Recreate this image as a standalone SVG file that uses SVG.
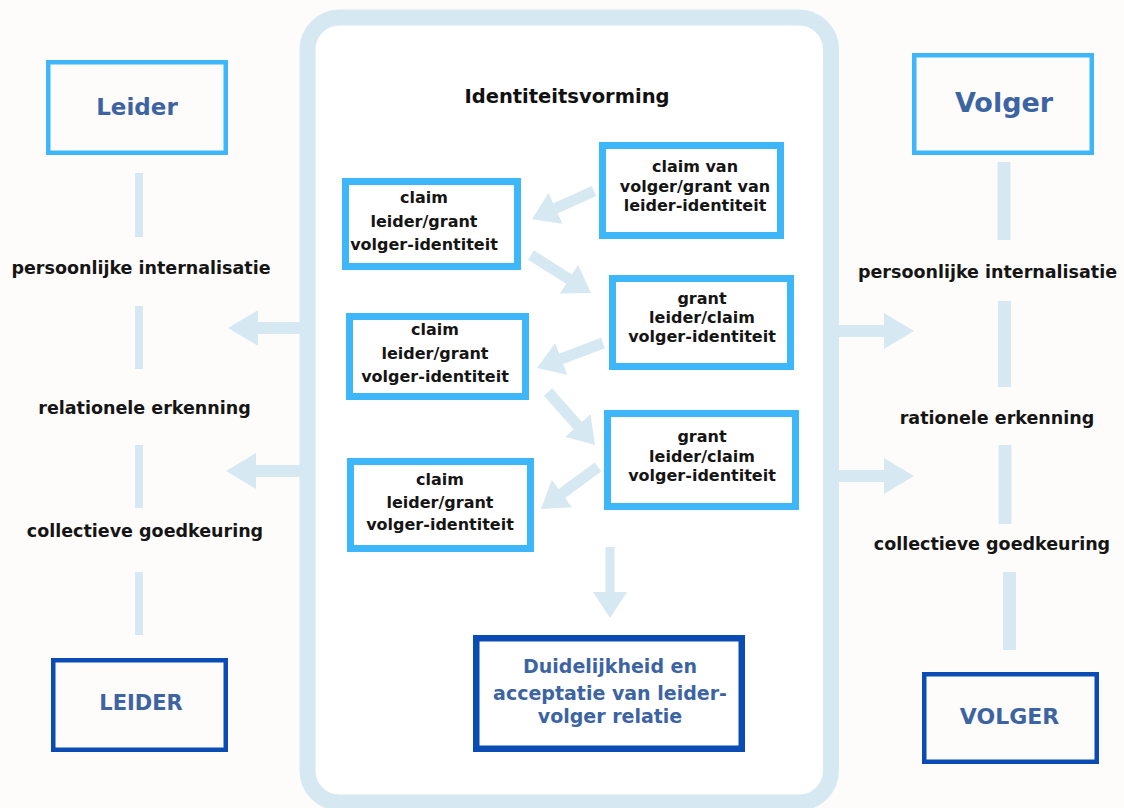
<svg xmlns="http://www.w3.org/2000/svg" width="1124" height="808" viewBox="0 0 1124 808">
<style>
  text { font-family: "DejaVu Sans", "Liberation Sans", sans-serif; font-weight: bold; text-anchor: middle; }
  .lbl { font-size: 17.5px; fill: #151515; }
  .inner { font-size: 16px; fill: #151515; }
  .bb { fill: none; stroke: #3db6fa; stroke-width: 7; }
  .ob { fill: none; stroke: #3db6fa; stroke-width: 4.5; }
  .db { fill: none; stroke: #0b4cb4; stroke-width: 4.5; }
  .blue { fill: #3d64a2; }
  .seg { stroke: #d6e9f2; }
  .arr { stroke: #d6e9f2; fill: none; }
</style>
<defs>
  <marker id="head" markerUnits="userSpaceOnUse" viewBox="0 0 26 34" markerWidth="26" markerHeight="34" refX="16" refY="17" orient="auto">
    <path d="M0,0 L26,17 L0,34 z" fill="#d6e9f2"/>
  </marker>
  <marker id="headL" markerUnits="userSpaceOnUse" viewBox="0 0 30 36" markerWidth="30" markerHeight="36" refX="20" refY="18" orient="auto">
    <path d="M0,0 L30,18 L0,36 z" fill="#d6e9f2"/>
  </marker>
</defs>
<rect width="1124" height="808" fill="#fdfcfa"/>
<g id="frame">
  <rect x="307.5" y="17.5" width="523.5" height="785" rx="32" fill="#ffffff" stroke="#d6e9f2" stroke-width="16"/>
</g>
<g id="connectors">
  <line class="seg" x1="139" y1="173" x2="139" y2="237" stroke-width="8"/>
  <line class="seg" x1="139" y1="306" x2="139" y2="369" stroke-width="8"/>
  <line class="seg" x1="139" y1="445" x2="139" y2="508" stroke-width="8"/>
  <line class="seg" x1="139" y1="572" x2="139" y2="635" stroke-width="8"/>
  <line class="seg" x1="1004" y1="162" x2="1004" y2="240" stroke-width="13"/>
  <line class="seg" x1="1004.5" y1="301" x2="1004.5" y2="387" stroke-width="13"/>
  <line class="seg" x1="1005" y1="445" x2="1005" y2="524" stroke-width="13"/>
  <line class="seg" x1="1009.5" y1="572" x2="1009.5" y2="650" stroke-width="13"/>
  <line class="arr" x1="300" y1="328" x2="238" y2="328" stroke-width="12" marker-end="url(#headL)"/>
  <line class="arr" x1="300" y1="471" x2="236" y2="471" stroke-width="12" marker-end="url(#headL)"/>
  <line class="arr" x1="838" y1="331" x2="904" y2="331" stroke-width="12" marker-end="url(#headL)"/>
  <line class="arr" x1="838" y1="476" x2="904" y2="476" stroke-width="12" marker-end="url(#headL)"/>
  <line class="arr" x1="594" y1="191" x2="541" y2="215" stroke-width="11" marker-end="url(#head)"/>
  <line class="arr" x1="531" y1="255" x2="582.5" y2="287.6" stroke-width="11" marker-end="url(#head)"/>
  <line class="arr" x1="603" y1="343" x2="546.3" y2="364.5" stroke-width="11" marker-end="url(#head)"/>
  <line class="arr" x1="548" y1="392" x2="588.4" y2="437.5" stroke-width="11" marker-end="url(#head)"/>
  <line class="arr" x1="598" y1="467" x2="549" y2="503" stroke-width="11" marker-end="url(#head)"/>
  <line class="arr" x1="610" y1="547" x2="610" y2="608" stroke-width="9" marker-end="url(#head)"/>
</g>
<text x="567" y="103" style="font-size:19.5px;fill:#111">Identiteitsvorming</text>
<g id="leider-top">
  <rect class="ob" x="48.25" y="62.25" width="177.5" height="90.5"/>
  <text class="blue" x="137" y="115" style="font-size:23px">Leider</text>
</g>
<g id="volger-top">
  <rect class="ob" x="914.25" y="55.25" width="177.5" height="97.5"/>
  <text class="blue" x="1004" y="112" style="font-size:27px">Volger</text>
</g>
<g id="leider-bottom">
  <rect class="db" x="53.25" y="660.25" width="172.5" height="89.5"/>
  <text class="blue" x="141" y="710" style="font-size:21px">LEIDER</text>
</g>
<g id="volger-bottom">
  <rect class="db" x="924.25" y="674.25" width="172.5" height="87.5"/>
  <text class="blue" x="1009.5" y="724" style="font-size:22px">VOLGER</text>
</g>
<g id="labels-left">
  <text class="lbl" x="141" y="274">persoonlijke internalisatie</text>
  <text class="lbl" x="144.5" y="414">relationele erkenning</text>
  <text class="lbl" x="145" y="537">collectieve goedkeuring</text>
</g>
<g id="labels-right">
  <text class="lbl" x="987.5" y="278">persoonlijke internalisatie</text>
  <text class="lbl" x="997" y="424">rationele erkenning</text>
  <text class="lbl" x="992" y="550">collectieve goedkeuring</text>
</g>
<g id="box-a">
  <rect class="bb" x="345.5" y="181.5" width="172" height="85"/>
  <text class="inner" x="424" y="203">claim</text>
  <text class="inner" x="424" y="227">leider/grant</text>
  <text class="inner" x="424" y="250">volger-identiteit</text>
</g>
<g id="box-b">
  <rect class="bb" x="602.5" y="145.5" width="178" height="90"/>
  <text class="inner" x="695" y="172">claim van</text>
  <text class="inner" x="695" y="192">volger/grant van</text>
  <text class="inner" x="695" y="211">leider-identiteit</text>
</g>
<g id="box-c">
  <rect class="bb" x="612.5" y="278.5" width="178" height="88"/>
  <text class="inner" x="702" y="304">grant</text>
  <text class="inner" x="702" y="323">leider/claim</text>
  <text class="inner" x="702" y="342">volger-identiteit</text>
</g>
<g id="box-d">
  <rect class="bb" x="349.5" y="316.5" width="176" height="80"/>
  <text class="inner" x="435" y="335">claim</text>
  <text class="inner" x="435" y="359">leider/grant</text>
  <text class="inner" x="435" y="382">volger-identiteit</text>
</g>
<g id="box-e">
  <rect class="bb" x="607.5" y="413.5" width="188" height="93"/>
  <text class="inner" x="702" y="442">grant</text>
  <text class="inner" x="702" y="462">leider/claim</text>
  <text class="inner" x="702" y="481">volger-identiteit</text>
</g>
<g id="box-f">
  <rect class="bb" x="350.5" y="461.5" width="180" height="87"/>
  <text class="inner" x="440" y="485">claim</text>
  <text class="inner" x="440" y="508">leider/grant</text>
  <text class="inner" x="440" y="530">volger-identiteit</text>
</g>
<g id="box-result">
  <rect fill="none" stroke="#0b4cb4" stroke-width="6.5" x="476.25" y="638.25" width="265.5" height="110.5"/>
  <text class="blue" x="610" y="673" style="font-size:19px">Duidelijkheid en</text>
  <text class="blue" x="610" y="700" style="font-size:19px">acceptatie van leider-</text>
  <text class="blue" x="610" y="723" style="font-size:19px">volger relatie</text>
</g>
</svg>
